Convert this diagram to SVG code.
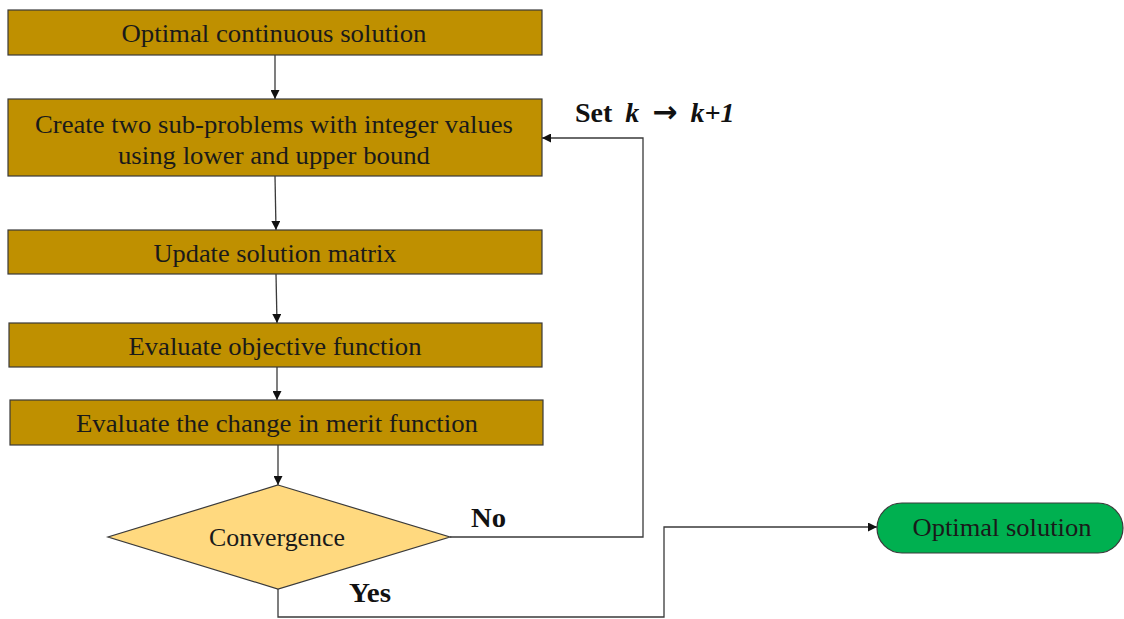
<svg xmlns="http://www.w3.org/2000/svg" width="1124" height="619" viewBox="0 0 1124 619">
  <style>
    .box { fill: #BF9000; stroke: #3a3a3a; stroke-width: 1.2; }
    .dec { fill: #FFD97F; stroke: #3a3a3a; stroke-width: 1.2; }
    .term { fill: #00B050; stroke: #3a3a3a; stroke-width: 1.2; }
    .lbl { font-family: "Liberation Serif", "Times New Roman", serif; font-size: 26px; fill: #1a1a1a; text-anchor: middle; dominant-baseline: central; }
    .tag { font-family: "Liberation Serif", "Times New Roman", serif; font-size: 28px; font-weight: bold; fill: #111; }
    .wire { fill: none; stroke: #3a3a3a; stroke-width: 1.3; }
  </style>
  <defs>
    <marker id="arrow" viewBox="0 0 10 10" refX="10" refY="5" markerWidth="9" markerHeight="9" markerUnits="userSpaceOnUse" orient="auto">
      <path d="M0,0 L10,5 L0,10 z" fill="#111"/>
    </marker>
  </defs>
  <rect width="1124" height="619" fill="#ffffff"/>

  <g id="connectors">
    <line class="wire" x1="275" y1="55" x2="275" y2="99" marker-end="url(#arrow)"/>
    <line class="wire" x1="275" y1="176" x2="276" y2="230" marker-end="url(#arrow)"/>
    <line class="wire" x1="276" y1="274" x2="277" y2="323" marker-end="url(#arrow)"/>
    <line class="wire" x1="277" y1="367" x2="277" y2="400" marker-end="url(#arrow)"/>
    <line class="wire" x1="278" y1="445" x2="278" y2="485" marker-end="url(#arrow)"/>
    <!-- No branch: loop back to sub-problem step -->
    <polyline class="wire" points="450,537 643,537 643,138 542,138" marker-end="url(#arrow)"/>
    <!-- Yes branch: on to final solution -->
    <polyline class="wire" points="278,589 278,617 664,617 664,527 877,527" marker-end="url(#arrow)"/>
    <text class="tag" x="471" y="527" textLength="35" lengthAdjust="spacingAndGlyphs">No</text>
    <text class="tag" x="349" y="602" textLength="42" lengthAdjust="spacingAndGlyphs">Yes</text>
    <text class="tag" x="575" y="122" word-spacing="6">Set <tspan font-style="italic">k</tspan> <tspan font-family="DejaVu Sans, sans-serif" font-size="30">→</tspan> <tspan font-style="italic">k+1</tspan></text>
  </g>

  <g id="start">
    <rect class="box" x="8" y="10" width="534" height="45"/>
    <text class="lbl" x="274" y="33" textLength="305" lengthAdjust="spacingAndGlyphs">Optimal continuous solution</text>
  </g>

  <g id="subproblems">
    <rect class="box" x="8" y="99" width="534" height="77"/>
    <text class="lbl" x="274" y="124" textLength="478" lengthAdjust="spacingAndGlyphs">Create two sub-problems with integer values</text>
    <text class="lbl" x="274" y="155" textLength="312" lengthAdjust="spacingAndGlyphs">using lower and upper bound</text>
  </g>

  <g id="update">
    <rect class="box" x="8" y="230" width="534" height="44"/>
    <text class="lbl" x="275" y="253" textLength="243" lengthAdjust="spacingAndGlyphs">Update solution matrix</text>
  </g>

  <g id="objective">
    <rect class="box" x="9" y="323" width="533" height="44"/>
    <text class="lbl" x="275" y="346" textLength="293" lengthAdjust="spacingAndGlyphs">Evaluate objective function</text>
  </g>

  <g id="merit">
    <rect class="box" x="10" y="400" width="533" height="45"/>
    <text class="lbl" x="277" y="423" textLength="402" lengthAdjust="spacingAndGlyphs">Evaluate the change in merit function</text>
  </g>

  <g id="convergence">
    <polygon class="dec" points="278,485 450,537 278,589 108,537"/>
    <text class="lbl" x="277" y="537" textLength="136" lengthAdjust="spacingAndGlyphs">Convergence</text>
  </g>

  <g id="final">
    <rect class="term" x="877" y="503" width="246" height="50" rx="25" ry="25"/>
    <text class="lbl" x="1002" y="527" textLength="179" lengthAdjust="spacingAndGlyphs">Optimal solution</text>
  </g>
</svg>
